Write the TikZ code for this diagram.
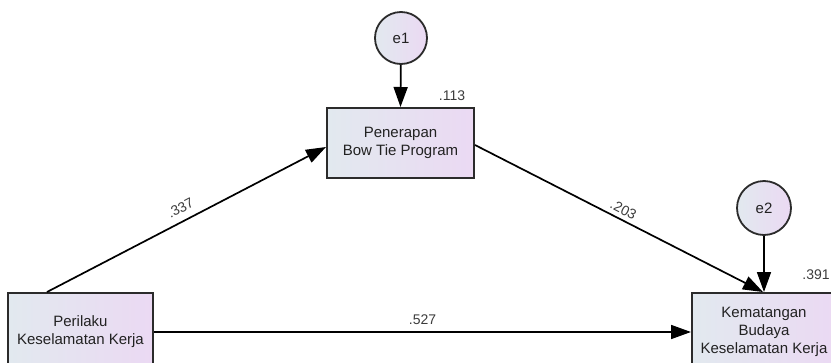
\documentclass[tikz,border=0pt]{standalone}
\usepackage{fontspec}
\setmainfont{Liberation Sans}
\usetikzlibrary{arrows.meta,calc}
\definecolor{fillL}{HTML}{E2E9EF}
\definecolor{fillR}{HTML}{EBD9F3}
\definecolor{edgegray}{HTML}{2B2B2B}
\definecolor{txtgray}{HTML}{222222}
\definecolor{lblgray}{HTML}{3C3C3C}
\tikzset{
  varbox/.style={draw=edgegray, line width=2pt, left color=fillL, right color=fillR,
    inner sep=0pt, align=center, text=txtgray,
    font=\fontsize{15}{18}\selectfont},
  errcirc/.style={circle, draw=edgegray, line width=1.8pt, left color=fillL, right color=fillR,
    inner sep=0pt, minimum size=52pt, text=txtgray, font=\fontsize{15}{18}\selectfont},
  conn/.style={line width=1.7pt, black, -{Triangle[length=20pt,width=14pt]}},
  coef/.style={text=lblgray, inner sep=2pt, font=\fontsize{14}{16}\selectfont}
}
\begin{document}
\begin{tikzpicture}[x=1pt,y=-1pt]
\useasboundingbox (0,0) rectangle (831,362);
\clip (0,0) rectangle (831,362);
% nodes
\node[errcirc] (e1) at (401,38) {e1};
\node[varbox, minimum width=147pt, minimum height=70pt] (pen) at (400.5,143) {Penerapan\\Bow Tie Program};
\node[varbox, minimum width=145pt, minimum height=78pt] (per) at (80.5,332) {Perilaku\\Keselamatan Kerja};
\node[varbox, minimum width=144pt, minimum height=78pt] (kem) at (764,332) {Kematangan\\Budaya\\Keselamatan Kerja};
\node[errcirc, minimum size=54pt] (e2) at (764,208) {e2};
% R2 labels
\node[coef] (r1) at (452,96) {.113};
\node[coef] (r2) at (816,275) {.391};
% connectors
\draw[conn] (e1) -- (pen.north);
\draw[conn] (e2) -- (kem.north);
\draw[conn] ($(per.north west)+(40,0)$) -- node[coef, pos=0.5, sloped, above=5pt] (c1) {.337} ($(pen.west)+(0,4)$);
\draw[conn] ($(pen.east)+(0,2)$) -- node[coef, pos=0.5, sloped, above=2pt] (c2) {.203} ($(kem.north)+(-1,0)$);
\draw[conn] (per.east) -- node[coef, pos=0.5, above=5pt] (c3) {.527} (kem.west);
\end{tikzpicture}
\end{document}
